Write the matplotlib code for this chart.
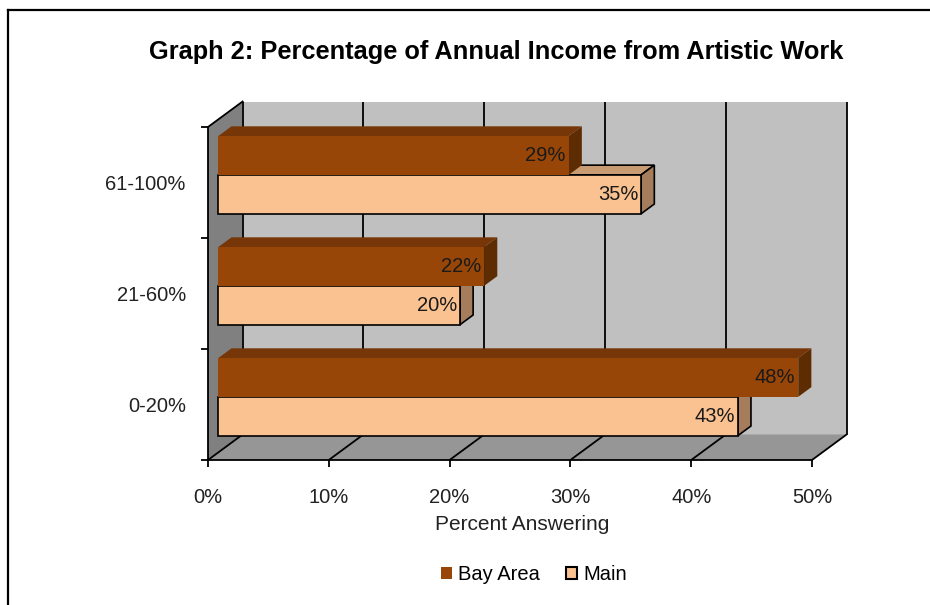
import matplotlib
matplotlib.use("Agg")
import matplotlib.pyplot as plt
from matplotlib.patches import Polygon, Patch
from matplotlib.lines import Line2D

plt.rcParams['font.family'] = ['Liberation Sans', 'DejaVu Sans']

# ---- data ----
categories = ["0-20%", "21-60%", "61-100%"]
bay_area = [48, 22, 29]
main = [43, 20, 35]
series_names = ["Bay Area", "Main"]
x_ticks = [0, 10, 20, 30, 40, 50]
x_tick_labels = ["0%", "10%", "20%", "30%", "40%", "50%"]
title = "Graph 2: Percentage of Annual Income from Artistic Work"
x_label = "Percent Answering"

# ---- styling ----
BAY_FRONT, BAY_TOP, BAY_SIDE = "#984607", "#773608", "#5E2C03"
MAIN_FRONT, MAIN_TOP, MAIN_SIDE = "#FAC291", "#C99B72", "#A67D5C"
WALL, SIDE_WALL, FLOOR = "#C0C0C0", "#808080", "#969696"

W, H = 930, 605
fig = plt.figure(figsize=(W / 100, H / 100), dpi=100)

# pixel geometry of the front plane
X0_PX, PX_PER_X = 208.0, 12.08          # x = 0 at 208 px, 12.08 px per percent
Y0_PX, PX_PER_CAT = 460.0, 111.0        # bottom of category band at 460 px
XLIM = (-1.5, 56.0)
YLIM = (-0.75, 2.95)
left_px = X0_PX + PX_PER_X * XLIM[0]
right_px = X0_PX + PX_PER_X * XLIM[1]
bot_px = Y0_PX - PX_PER_CAT * (YLIM[0] + 0.5)
top_px = Y0_PX - PX_PER_CAT * (YLIM[1] + 0.5)
ax = fig.add_axes([left_px / W, 1 - bot_px / H,
                   (right_px - left_px) / W, (bot_px - top_px) / H])
ax.set_xlim(*XLIM)
ax.set_ylim(*YLIM)
ax.set_facecolor("none")

# oblique depth vector (data units)
DX, DY = 34.6 / PX_PER_X, 25.5 / PX_PER_CAT
F0, F1 = 0.30, 0.68          # bar front / back as fractions of depth
BAR_H = 0.35

n = len(categories)
yb, yt = -0.5, n - 0.5
xmax = x_ticks[-1]


def poly(pts, fc, ec="none", lw=0.0, z=1):
    ax.add_patch(Polygon(pts, closed=True, facecolor=fc, edgecolor=ec,
                         linewidth=lw, zorder=z, joinstyle="miter"))


# walls and floor
poly([(DX, yb + DY), (xmax + DX, yb + DY), (xmax + DX, yt + DY), (DX, yt + DY)], WALL, z=1)
poly([(0, yb), (DX, yb + DY), (DX, yt + DY), (0, yt)], SIDE_WALL, z=1)
poly([(0, yb), (xmax, yb), (xmax + DX, yb + DY), (DX, yb + DY)], FLOOR, z=1)

# gridlines on floor and back wall
for xv in x_ticks:
    ax.plot([xv, xv + DX], [yb, yb + DY], color="black", lw=1.3, zorder=2,
            solid_capstyle="butt")
    ax.plot([xv + DX, xv + DX], [yb + DY, yt + DY], color="black", lw=1.3,
            zorder=2, solid_capstyle="butt")
ax.plot([0, DX], [yt, yt + DY], color="black", lw=1.3, zorder=2)


def bar3d(y0, val, front, top, side, ec, lw, z):
    y1 = y0 + BAR_H
    xa, xb = F0 * DX, val + F0 * DX
    ya, yc = y0 + F0 * DY, y1 + F0 * DY
    ddx, ddy = (F1 - F0) * DX, (F1 - F0) * DY
    poly([(xa, yc), (xb, yc), (xb + ddx, yc + ddy), (xa + ddx, yc + ddy)], top, ec, lw, z)
    poly([(xb, ya), (xb + ddx, ya + ddy), (xb + ddx, yc + ddy), (xb, yc)], side, ec, lw, z)
    poly([(xa, ya), (xb, ya), (xb, yc), (xa, yc)], front, ec, lw, z)
    ax.annotate(f"{val}%", xy=(xb, (ya + yc) / 2), xytext=(-3, 0),
                textcoords="offset pixels", ha="right", va="center",
                fontsize=14.5, color="#1a1a1a", zorder=z + 1)


for i in range(n):
    bar3d(i - BAR_H, main[i], MAIN_FRONT, MAIN_TOP, MAIN_SIDE, "black", 1.2, 3 + 2 * i)
    bar3d(i, bay_area[i], BAY_FRONT, BAY_TOP, BAY_SIDE, "none", 0.0, 4 + 2 * i)

# axes: spines placed on the front plane
for s in ("top", "right"):
    ax.spines[s].set_visible(False)
ax.spines["bottom"].set_position(("data", yb))
ax.spines["bottom"].set_bounds(0, xmax)
ax.spines["left"].set_position(("data", 0))
ax.spines["left"].set_bounds(yb, yt)
for s in ("bottom", "left"):
    ax.spines[s].set_linewidth(1.3)
    ax.spines[s].set_zorder(20)

ax.set_xticks(x_ticks)
ax.set_xticklabels(x_tick_labels)
ax.tick_params(axis="x", length=5, width=1.3, pad=15, labelsize=14.5,
               labelcolor="#222222")
ax.set_yticks([k - 0.5 for k in range(n + 1)])
ax.set_yticklabels([])
ax.set_yticks(range(n), minor=True)
ax.set_yticklabels(categories, minor=True)
ax.tick_params(axis="y", which="major", length=5, width=1.3)
ax.tick_params(axis="y", which="minor", length=0, pad=16, labelsize=14.5,
               labelcolor="#222222")

# texts
fig.text(496 / W, 1 - 52 / H, title, ha="center", va="center",
         fontsize=18.3, fontweight="bold")
fig.text(522 / W, 1 - 524 / H, x_label, ha="center", va="center",
         fontsize=15, color="#222222")

handles = [Patch(facecolor=BAY_FRONT, edgecolor="none"),
           Patch(facecolor=MAIN_FRONT, edgecolor="black", linewidth=1.5)]
fig.legend(handles, series_names, loc="center", bbox_to_anchor=(534 / W, 1 - 575 / H),
           ncol=2, frameon=False, fontsize=14.5, handlelength=0.55,
           handleheight=0.55, handletextpad=0.3, columnspacing=1.3)

# outer frame (top and left edges)
fig.add_artist(Line2D([8 / W, 1], [1 - 10 / H, 1 - 10 / H], color="black", lw=1.6))
fig.add_artist(Line2D([8 / W, 8 / W], [0, 1 - 10 / H], color="black", lw=1.6))

fig.savefig("out.png", dpi=100, facecolor="white")
